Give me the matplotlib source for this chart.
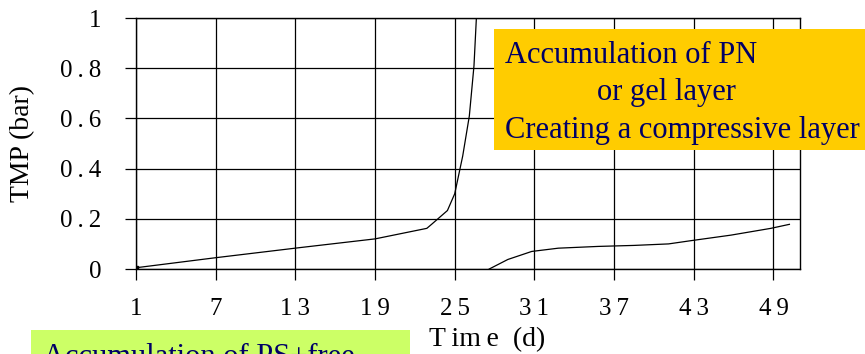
import matplotlib
matplotlib.use("Agg")
import matplotlib.pyplot as plt
from matplotlib.patches import Rectangle

# Transmembrane pressure over time, two filtration runs
run1_day = [1, 7, 13.3, 19, 22.9, 23.3, 24.45, 25, 25.6, 26.1, 26.45, 26.63]
run1_tmp = [0.005, 0.045, 0.085, 0.12, 0.162, 0.18, 0.233, 0.30, 0.45, 0.61, 0.81, 1.0]

run2_day = [27.6, 29.0, 30.8, 32.8, 35.8, 38.5, 41.1, 42.8, 45.8, 48.8, 50.2]
run2_tmp = [0.0, 0.038, 0.07, 0.083, 0.09, 0.094, 0.10, 0.113, 0.135, 0.162, 0.178]

TS = "\u2009"  # thin space used for letter-spaced tick labels
x_ticks = [1, 7, 13, 19, 25, 31, 37, 43, 49]
x_tick_labels = ["1", "7", "1" + TS + "3", "1" + TS + "9", "2" + TS + "5",
                 "3" + TS + "1", "3" + TS + "7", "4" + TS + "3", "4" + TS + "9"]
y_ticks = [0, 0.2, 0.4, 0.6, 0.8, 1.0]
y_tick_labels = ["0", TS.join("0.2"), TS.join("0.4"), TS.join("0.6"),
                 TS.join("0.8"), "1"]

plt.rcParams["font.family"] = ["Liberation Serif", "DejaVu Serif"]

fig = plt.figure(figsize=(8.65, 3.54), dpi=100)
ax = fig.add_axes([0.1572, 0.2401, 0.9249 - 0.1572, 0.949 - 0.2401])

ax.plot(run1_day, run1_tmp, color="black", lw=0.9)
ax.plot(run1_day[:1], run1_tmp[:1], "s", color="black", ms=3)
ax.plot(run2_day, run2_tmp, color="black", lw=0.9)

ax.set_xlim(1, 51)
ax.set_ylim(0, 1)
ax.set_xticks(x_ticks)
ax.set_xticklabels(x_tick_labels)
ax.set_yticks(y_ticks)
ax.set_yticklabels(y_tick_labels)
ax.tick_params(axis="both", direction="out", length=8, width=0.9,
               labelsize=18, color="black")
ax.tick_params(axis="x", pad=13)
ax.tick_params(axis="y", pad=17)
ax.grid(True, color="black", lw=0.9)
ax.set_axisbelow(True)
for s in ax.spines.values():
    s.set_color("black")
    s.set_linewidth(1.0)

fig.text(23 / 865, 1 - 143 / 354, "TMP (bar)", rotation=90, ha="center",
         va="center", fontsize=20)
fig.text(487 / 865, 1 - 340 / 354, "T\u2009im\u2009e  (d)", ha="center",
         va="center", fontsize=20)

# Annotation boxes
navy = "#000066"
fig.patches.append(Rectangle((494 / 865, 1 - 150 / 354), (865 - 494) / 865,
                             (150 - 29) / 354, transform=fig.transFigure,
                             facecolor="#FFCC00", edgecolor="none", zorder=5))
fig.text(505 / 865, 1 - 63 / 354, "Accumulation of PN", ha="left",
         va="baseline", fontsize=22, color=navy, zorder=6)
fig.text(597 / 865, 1 - 100 / 354, "or gel layer", ha="left",
         va="baseline", fontsize=22, color=navy, zorder=6)
fig.text(505 / 865, 1 - 138 / 354, "Creating a compressive layer", ha="left",
         va="baseline", fontsize=22, color=navy, zorder=6)

fig.patches.append(Rectangle((31 / 865, 0), (410 - 31) / 865, 24 / 354,
                             transform=fig.transFigure, facecolor="#CCFF66",
                             edgecolor="none", zorder=5))
fig.text(43 / 865, 1 - 365 / 354, "Accumulation of PS+free", ha="left",
         va="baseline", fontsize=22, color=navy, zorder=6)

fig.savefig("out.png", dpi=100)
